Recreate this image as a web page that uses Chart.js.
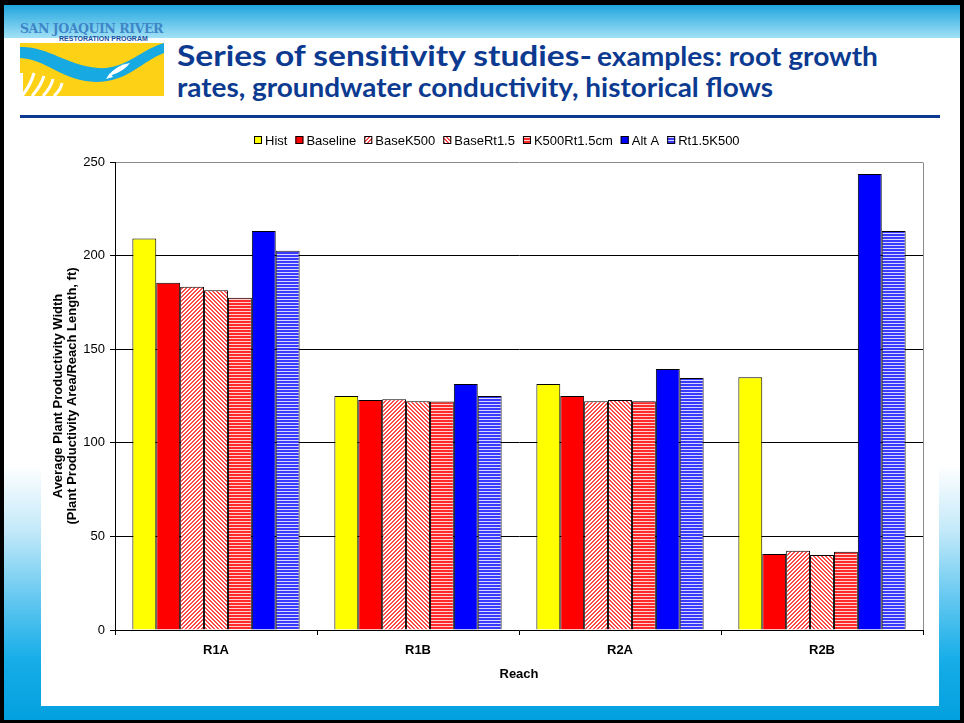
<!DOCTYPE html>
<html>
<head>
<meta charset="utf-8">
<script src="https://cdn.jsdelivr.net/npm/chart.js@4/dist/chart.umd.min.js"></script>
<style>
  html, body { margin: 0; padding: 0; }
  body { width: 964px; height: 723px; background: #000; position: relative; overflow: hidden; }
  .slide {
    position: absolute; left: 4px; top: 5px; width: 956px; height: 715px;
    background: linear-gradient(to bottom, #fff 0px, #fff 460px, #c4e9f9 525px, #62c7f0 595px, #16ade8 655px, #03a0df 715px);
  }
  .band {
    position: absolute; left: 4px; top: 5px; width: 956px; height: 33px;
    background: linear-gradient(to bottom, #1fa5de 0%, #a2e1f6 100%);
  }
  .rule { position: absolute; left: 20px; top: 115px; width: 920px; height: 3px; background: #0b3a90; }
  .ttl {
    position: absolute; white-space: nowrap; color: #0b3a90; transform-origin: 0 0;
    font-family: Lato, "Open Sans", sans-serif; font-weight: bold; line-height: 1;
  }
  #t1a { left: 177px; top: 40px; font-size: 29px; }
  #t1b { left: 597px; top: 43px; font-size: 26px; }
  #t2  { left: 177px; top: 74px; font-size: 26px; }
  .logo-name {
    position: absolute; left: 20px; top: 21px; font-family: "DejaVu Serif", serif; font-weight: bold;
    font-size: 13px; color: #3f86c8; white-space: nowrap; transform-origin: 0 0; letter-spacing: -0.5px;
  }
  .logo-sub {
    position: absolute; left: 58px; top: 35px; font-family: "Liberation Sans", Arial, sans-serif; font-weight: bold;
    font-size: 7px; line-height: 8px; color: #1d4f9e; white-space: nowrap; padding: 0 1px;
  }
  #logo { position: absolute; left: 20px; top: 43px; }
  .chartbox { position: absolute; left: 41px; top: 120px; width: 898px; height: 586px; background: #fff; }
  #chart { display: block; }
</style>
</head>
<body>
<div class="slide"></div>
<div class="band"></div>
<div class="logo-name" id="logoName">SAN JOAQUIN RIVER</div>
<div class="logo-sub">RESTORATION PROGRAM</div>
<canvas id="logo" width="144" height="53"></canvas>
<div class="ttl" id="t1a">Series of sensitivity studies-</div>
<div class="ttl" id="t1b">examples: root growth</div>
<div class="ttl" id="t2">rates, groundwater conductivity, historical flows</div>
<div class="rule"></div>
<div class="chartbox"><canvas id="chart" width="898" height="586"></canvas></div>

<script>
// ---- data ----
const reaches = ['R1A', 'R1B', 'R2A', 'R2B'];
const seriesNames = ['Hist', 'Baseline', 'BaseK500', 'BaseRt1.5', 'K500Rt1.5cm', 'Alt A', 'Rt1.5K500'];
const hist       = [209.2, 125.0, 131.4, 135.0];
const baseline   = [185.5, 122.8, 125.0, 40.6];
const baseK500   = [183.4, 123.2, 122.2, 42.4];
const baseRt15   = [181.5, 122.2, 122.8, 40.1];
const k500Rt15cm = [177.5, 122.0, 122.2, 41.8];
const altA       = [213.1, 131.4, 139.4, 243.6];
const rt15K500   = [202.6, 125.0, 134.6, 213.1];
const yMin = 0, yMax = 250, yStep = 50;
const xTitle = 'Reach';
const yTitle = ['Average Plant Productivity Width', '(Plant Productivity Area/Reach Length, ft)'];

// ---- heading: stretch each run of text to its slot width ----
function fitWidth(id, width) {
  const el = document.getElementById(id);
  const w = el.getBoundingClientRect().width;
  el.style.transform = 'scaleX(' + (width / w) + ')';
}
fitWidth('t1a', 415);
fitWidth('t1b', 281);
fitWidth('t2', 596);
fitWidth('logoName', 143);

// ---- logo artwork ----
(function drawLogo() {
  const g = document.getElementById('logo').getContext('2d');
  g.fillStyle = '#fdd116';
  g.fillRect(0, 0, 144, 53);
  // river
  g.fillStyle = '#17a9e1';
  g.beginPath();
  g.moveTo(0, 4);
  g.bezierCurveTo(28, 3, 45, 22, 78, 25);
  g.bezierCurveTo(105, 27, 122, 6, 144, 0);
  g.lineTo(144, 10);
  g.bezierCurveTo(122, 18, 108, 39, 76, 39);
  g.bezierCurveTo(42, 38, 26, 16, 0, 15);
  g.closePath();
  g.fill();
  // fish
  g.fillStyle = '#fff';
  g.beginPath();
  g.moveTo(88, 33);
  g.quadraticCurveTo(96, 22, 110, 20);
  g.quadraticCurveTo(104, 28, 92, 32);
  g.closePath();
  g.fill();
  g.beginPath();
  g.moveTo(86, 36); g.lineTo(90, 30); g.lineTo(93, 34); g.closePath(); g.fill();
  // field rows
  g.strokeStyle = '#fff';
  g.lineWidth = 3;
  const rows = [[2, 53, 14, 30], [12, 53, 24, 33], [23, 53, 33, 36], [34, 53, 42, 40]];
  rows.forEach(r => { g.beginPath(); g.moveTo(r[0], r[1]); g.quadraticCurveTo((r[0] + r[2]) / 2 + 3, (r[1] + r[3]) / 2, r[2], r[3]); g.stroke(); });
  g.fillStyle = '#fff';
  g.fillRect(0, 30, 3, 23);
})();

// ---- fill patterns ----
function makePattern(w, h, colorAt) {
  const c = document.createElement('canvas');
  c.width = w; c.height = h;
  const g = c.getContext('2d');
  for (let y = 0; y < h; y++) {
    for (let x = 0; x < w; x++) {
      g.fillStyle = colorAt(x, y);
      g.fillRect(x, y, 1, 1);
    }
  }
  return g.createPattern(c, 'repeat');
}
const upDiag   = makePattern(4, 4, (x, y) => ((x + y) % 4 < 2 ? '#ff4a4a' : '#ffffff'));
const downDiag = makePattern(4, 4, (x, y) => (((x - y) % 4 + 4) % 4 < 2 ? '#ff4a4a' : '#ffffff'));
const redHoriz = makePattern(1, 3, (x, y) => (y < 2 ? '#ff2a2a' : '#ffd0d0'));
const blueHoriz = makePattern(1, 3, (x, y) => (y < 2 ? '#3a3aff' : '#d6d6ff'));

const fills = ['#ffff00', '#ff0000', upDiag, downDiag, redHoriz, '#0000ff', blueHoriz];
const values = [hist, baseline, baseK500, baseRt15, k500Rt15cm, altA, rt15K500];

Chart.defaults.font.family = '"Liberation Sans", Arial, sans-serif';
Chart.defaults.font.size = 13;
Chart.defaults.color = '#000';

const LEGEND_CENTER_X = 456;
const LEGEND_CENTER_Y = 20;

const legendRow = {
  id: 'legendRow',
  afterDraw(chart) {
    const ctx = chart.ctx;
    ctx.save();
    ctx.font = '13px "Liberation Sans", Arial, sans-serif';
    ctx.textBaseline = 'middle';
    ctx.textAlign = 'left';
    const box = 8, gapText = 3, gapItem = 8;
    const items = chart.data.datasets.map(ds => ({ text: ds.label, fill: ds.backgroundColor, w: ctx.measureText(ds.label).width }));
    const total = items.reduce((s, it) => s + box + gapText + it.w, 0) + gapItem * (items.length - 1);
    let x = Math.round(LEGEND_CENTER_X - total / 2);
    items.forEach(it => {
      const by = LEGEND_CENTER_Y - box / 2;
      ctx.fillStyle = it.fill;
      ctx.fillRect(x, by, box, box);
      ctx.strokeStyle = '#000';
      ctx.lineWidth = 1;
      ctx.strokeRect(x + 0.5, by + 0.5, box - 1, box - 1);
      ctx.fillStyle = '#000';
      ctx.fillText(it.text, x + box + gapText, LEGEND_CENTER_Y + 1);
      x += box + gapText + it.w + gapItem;
    });
    ctx.restore();
  }
};

const plotFrame = {
  id: 'plotFrame',
  beforeDatasetsDraw(chart) {
    const { ctx, chartArea } = chart;
    ctx.save();
    ctx.strokeStyle = '#8a8a8a';
    ctx.lineWidth = 1;
    ctx.beginPath();
    const rx = Math.round(chartArea.right) + 0.5;
    ctx.moveTo(rx, Math.round(chartArea.top) + 0.5);
    ctx.lineTo(rx, Math.round(chartArea.bottom));
    ctx.stroke();
    ctx.restore();
  }
};

new Chart(document.getElementById('chart'), {
  type: 'bar',
  data: {
    labels: reaches,
    datasets: seriesNames.map((name, i) => ({
      label: name,
      data: values[i],
      backgroundColor: fills[i],
      borderColor: '#000',
      borderWidth: 1,
      borderSkipped: 'bottom'
    }))
  },
  options: {
    responsive: false,
    animation: false,
    devicePixelRatio: 1,
    layout: { padding: { top: 42, right: 16, bottom: 0, left: 0 } },
    datasets: { bar: { barPercentage: 1, categoryPercentage: 0.828 } },
    plugins: { legend: { display: false }, tooltip: { enabled: false } },
    scales: {
      x: {
        grid: { drawOnChartArea: false, drawTicks: true, tickLength: 5, color: '#000', tickColor: '#000', offset: true },
        border: { color: '#000', width: 1 },
        ticks: { font: { size: 13, weight: 'bold' }, padding: 8, color: '#000' },
        title: { display: true, text: xTitle, font: { size: 13, weight: 'bold', lineHeight: 1.1 }, padding: { top: 0, bottom: 24 }, color: '#000' },
        afterFit(scale) { scale.height = 76; }
      },
      y: {
        min: yMin, max: yMax,
        grid: {
          color: ctx => (ctx.tick && ctx.tick.value === yMax ? '#8a8a8a' : (ctx.tick && ctx.tick.value === yMin ? 'rgba(0,0,0,0)' : '#000')),
          tickColor: '#000', tickLength: 5, lineWidth: 1
        },
        border: { color: '#000', width: 1 },
        ticks: { stepSize: yStep, padding: 5, font: { size: 13 }, color: '#000' },
        title: { display: true, text: yTitle, font: { size: 13, weight: 'bold', lineHeight: 1.1 }, padding: { top: 10, bottom: 0 }, color: '#000' },
        afterFit(scale) { scale.width = 74; }
      }
    }
  },
  plugins: [legendRow, plotFrame]
});
</script>
</body>
</html>
